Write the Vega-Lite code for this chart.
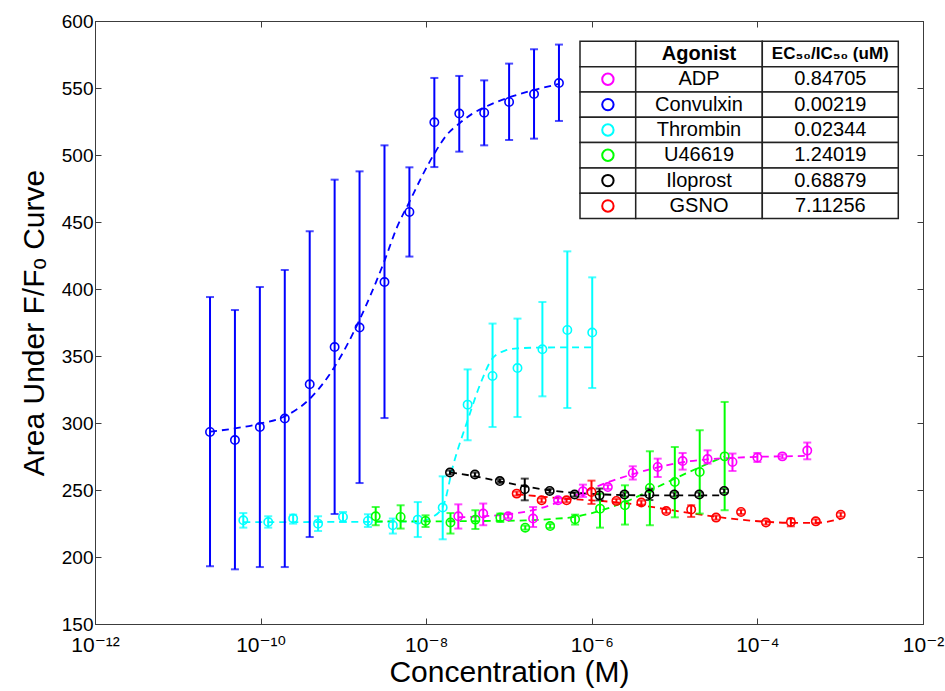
{
  "$schema": "https://vega.github.io/schema/vega-lite/v6.json",
  "width": 828,
  "height": 603,
  "autosize": "none",
  "padding": {"left": 95, "top": 21, "right": 22, "bottom": 67},
  "background": "white",
  "config": {
    "view": {"stroke": "#3c3c3c", "strokeWidth": 1},
    "font": "Liberation Sans, Arial, DejaVu Sans, sans-serif",
    "axis": {
      "grid": false,
      "domainColor": "#3c3c3c",
      "tickColor": "#3c3c3c",
      "labelColor": "#000000",
      "titleColor": "#000000",
      "labelFont": "Liberation Sans, Arial, DejaVu Sans, sans-serif",
      "titleFont": "Liberation Sans, Arial, DejaVu Sans, sans-serif",
      "titleFontWeight": "normal"
    }
  },
  "datasets": {
    "points": [
      {"s": "Convulxin", "x": 2.449e-11, "y": 293.3, "lo": 193.1, "hi": 394.0},
      {"s": "Convulxin", "x": 4.898e-11, "y": 287.3, "lo": 190.8, "hi": 384.3},
      {"s": "Convulxin", "x": 9.796e-11, "y": 297.0, "lo": 192.5, "hi": 401.5},
      {"s": "Convulxin", "x": 1.959e-10, "y": 303.3, "lo": 192.5, "hi": 414.2},
      {"s": "Convulxin", "x": 3.918e-10, "y": 328.9, "lo": 214.9, "hi": 443.1},
      {"s": "Convulxin", "x": 7.837e-10, "y": 356.7, "lo": 232.1, "hi": 481.6},
      {"s": "Convulxin", "x": 1.567e-9, "y": 371.2, "lo": 255.2, "hi": 487.8},
      {"s": "Convulxin", "x": 3.135e-9, "y": 405.2, "lo": 303.7, "hi": 507.2},
      {"s": "Convulxin", "x": 6.269e-9, "y": 457.5, "lo": 424.2, "hi": 490.8},
      {"s": "Convulxin", "x": 1.254e-8, "y": 524.4, "lo": 491.0, "hi": 557.5},
      {"s": "Convulxin", "x": 2.508e-8, "y": 530.9, "lo": 502.5, "hi": 559.0},
      {"s": "Convulxin", "x": 5.015e-8, "y": 531.6, "lo": 507.2, "hi": 555.7},
      {"s": "Convulxin", "x": 1.003e-7, "y": 539.6, "lo": 511.2, "hi": 568.2},
      {"s": "Convulxin", "x": 2.006e-7, "y": 545.5, "lo": 512.2, "hi": 578.9},
      {"s": "Convulxin", "x": 4.012e-7, "y": 553.7, "lo": 525.4, "hi": 582.4},
      {"s": "Thrombin", "x": 6.18e-11, "y": 227.4, "lo": 221.9, "hi": 232.8},
      {"s": "Thrombin", "x": 1.236e-10, "y": 226.1, "lo": 221.9, "hi": 230.4},
      {"s": "Thrombin", "x": 2.472e-10, "y": 228.7, "lo": 224.9, "hi": 231.6},
      {"s": "Thrombin", "x": 4.944e-10, "y": 224.9, "lo": 219.4, "hi": 230.4},
      {"s": "Thrombin", "x": 9.888e-10, "y": 229.9, "lo": 226.1, "hi": 233.6},
      {"s": "Thrombin", "x": 1.978e-9, "y": 226.9, "lo": 222.4, "hi": 231.9},
      {"s": "Thrombin", "x": 3.955e-9, "y": 223.7, "lo": 217.5, "hi": 228.7},
      {"s": "Thrombin", "x": 7.910e-9, "y": 227.9, "lo": 214.9, "hi": 241.0},
      {"s": "Thrombin", "x": 1.582e-8, "y": 236.9, "lo": 213.2, "hi": 260.2},
      {"s": "Thrombin", "x": 3.164e-8, "y": 313.7, "lo": 287.1, "hi": 340.0},
      {"s": "Thrombin", "x": 6.328e-8, "y": 335.1, "lo": 297.0, "hi": 374.2},
      {"s": "Thrombin", "x": 1.266e-7, "y": 341.0, "lo": 304.5, "hi": 377.9},
      {"s": "Thrombin", "x": 2.531e-7, "y": 355.0, "lo": 319.9, "hi": 390.3},
      {"s": "Thrombin", "x": 5.062e-7, "y": 369.4, "lo": 311.2, "hi": 428.1},
      {"s": "Thrombin", "x": 1.012e-6, "y": 367.5, "lo": 326.1, "hi": 408.7},
      {"s": "U46619", "x": 2.455e-9, "y": 230.4, "lo": 223.7, "hi": 237.3},
      {"s": "U46619", "x": 4.91e-9, "y": 229.9, "lo": 221.2, "hi": 238.6},
      {"s": "U46619", "x": 9.82e-9, "y": 226.9, "lo": 222.4, "hi": 231.1},
      {"s": "U46619", "x": 1.964e-8, "y": 225.7, "lo": 217.5, "hi": 232.8},
      {"s": "U46619", "x": 3.928e-8, "y": 227.9, "lo": 220.9, "hi": 234.9},
      {"s": "U46619", "x": 7.856e-8, "y": 229.4, "lo": 226.1, "hi": 232.4},
      {"s": "U46619", "x": 1.571e-7, "y": 221.9, "lo": 220.4, "hi": 223.4},
      {"s": "U46619", "x": 3.142e-7, "y": 223.1, "lo": 221.6, "hi": 224.6},
      {"s": "U46619", "x": 6.285e-7, "y": 228.1, "lo": 224.2, "hi": 231.6},
      {"s": "U46619", "x": 1.257e-6, "y": 236.1, "lo": 221.9, "hi": 247.3},
      {"s": "U46619", "x": 2.514e-6, "y": 238.6, "lo": 224.2, "hi": 253.5},
      {"s": "U46619", "x": 5.028e-6, "y": 251.5, "lo": 223.7, "hi": 278.9},
      {"s": "U46619", "x": 1.006e-5, "y": 256.0, "lo": 229.6, "hi": 282.1},
      {"s": "U46619", "x": 2.011e-5, "y": 263.4, "lo": 232.4, "hi": 294.6},
      {"s": "U46619", "x": 4.022e-5, "y": 275.1, "lo": 234.9, "hi": 315.7},
      {"s": "ADP", "x": 2.442e-8, "y": 230.4, "lo": 221.2, "hi": 239.3},
      {"s": "ADP", "x": 4.884e-8, "y": 232.4, "lo": 223.7, "hi": 239.9},
      {"s": "ADP", "x": 9.768e-8, "y": 230.4, "lo": 228.9, "hi": 231.9},
      {"s": "ADP", "x": 1.954e-7, "y": 228.7, "lo": 222.4, "hi": 237.3},
      {"s": "ADP", "x": 3.907e-7, "y": 242.3, "lo": 240.8, "hi": 243.8},
      {"s": "ADP", "x": 7.814e-7, "y": 249.0, "lo": 244.8, "hi": 254.0},
      {"s": "ADP", "x": 1.563e-6, "y": 252.2, "lo": 250.7, "hi": 253.7},
      {"s": "ADP", "x": 3.126e-6, "y": 262.7, "lo": 257.8, "hi": 267.7},
      {"s": "ADP", "x": 6.251e-6, "y": 267.2, "lo": 259.7, "hi": 273.4},
      {"s": "ADP", "x": 1.250e-5, "y": 271.6, "lo": 265.2, "hi": 277.6},
      {"s": "ADP", "x": 2.501e-5, "y": 273.1, "lo": 269.7, "hi": 279.6},
      {"s": "ADP", "x": 5.001e-5, "y": 270.9, "lo": 264.2, "hi": 277.2},
      {"s": "ADP", "x": 1.000e-4, "y": 274.2, "lo": 270.9, "hi": 277.6},
      {"s": "ADP", "x": 2.001e-4, "y": 275.1, "lo": 273.6, "hi": 276.6},
      {"s": "ADP", "x": 4.001e-4, "y": 279.4, "lo": 272.9, "hi": 285.4},
      {"s": "Iloprost", "x": 1.938e-8, "y": 263.0, "lo": 261.5, "hi": 264.5},
      {"s": "Iloprost", "x": 3.876e-8, "y": 261.5, "lo": 260.0, "hi": 263.0},
      {"s": "Iloprost", "x": 7.752e-8, "y": 256.7, "lo": 255.2, "hi": 258.2},
      {"s": "Iloprost", "x": 1.550e-7, "y": 250.5, "lo": 242.3, "hi": 258.5},
      {"s": "Iloprost", "x": 3.101e-7, "y": 249.3, "lo": 247.8, "hi": 250.8},
      {"s": "Iloprost", "x": 6.202e-7, "y": 246.6, "lo": 245.1, "hi": 248.1},
      {"s": "Iloprost", "x": 1.240e-6, "y": 246.0, "lo": 242.3, "hi": 251.1},
      {"s": "Iloprost", "x": 2.481e-6, "y": 246.6, "lo": 245.1, "hi": 248.1},
      {"s": "Iloprost", "x": 4.962e-6, "y": 246.8, "lo": 242.5, "hi": 251.0},
      {"s": "Iloprost", "x": 9.923e-6, "y": 246.6, "lo": 245.1, "hi": 248.1},
      {"s": "Iloprost", "x": 1.985e-5, "y": 246.6, "lo": 245.1, "hi": 248.1},
      {"s": "Iloprost", "x": 3.969e-5, "y": 249.3, "lo": 247.8, "hi": 250.8},
      {"s": "GSNO", "x": 1.239e-7, "y": 247.3, "lo": 245.8, "hi": 248.8},
      {"s": "GSNO", "x": 2.478e-7, "y": 242.3, "lo": 240.8, "hi": 243.8},
      {"s": "GSNO", "x": 4.956e-7, "y": 242.3, "lo": 240.8, "hi": 243.8},
      {"s": "GSNO", "x": 9.912e-7, "y": 248.5, "lo": 239.6, "hi": 257.0},
      {"s": "GSNO", "x": 1.982e-6, "y": 241.8, "lo": 240.3, "hi": 243.3},
      {"s": "GSNO", "x": 3.965e-6, "y": 240.6, "lo": 239.1, "hi": 242.1},
      {"s": "GSNO", "x": 7.930e-6, "y": 234.3, "lo": 232.8, "hi": 235.8},
      {"s": "GSNO", "x": 1.586e-5, "y": 235.4, "lo": 229.9, "hi": 238.6},
      {"s": "GSNO", "x": 3.172e-5, "y": 229.4, "lo": 227.9, "hi": 230.9},
      {"s": "GSNO", "x": 6.344e-5, "y": 233.6, "lo": 232.1, "hi": 235.1},
      {"s": "GSNO", "x": 1.269e-4, "y": 225.7, "lo": 224.2, "hi": 227.2},
      {"s": "GSNO", "x": 2.537e-4, "y": 226.1, "lo": 222.9, "hi": 228.7},
      {"s": "GSNO", "x": 5.075e-4, "y": 226.6, "lo": 225.1, "hi": 228.1},
      {"s": "GSNO", "x": 1.015e-3, "y": 231.6, "lo": 230.1, "hi": 233.1}
    ],
    "fits": [
      {"s": "Convulxin", "x": 2.449e-11, "y": 293.5},
      {"s": "Convulxin", "x": 4.898e-11, "y": 296.0},
      {"s": "Convulxin", "x": 9.796e-11, "y": 299.5},
      {"s": "Convulxin", "x": 1.959e-10, "y": 305.0},
      {"s": "Convulxin", "x": 3.918e-10, "y": 318.0},
      {"s": "Convulxin", "x": 7.837e-10, "y": 342.0},
      {"s": "Convulxin", "x": 1.567e-9, "y": 377.0},
      {"s": "Convulxin", "x": 2.216e-9, "y": 398.0},
      {"s": "Convulxin", "x": 3.135e-9, "y": 421.0},
      {"s": "Convulxin", "x": 4.433e-9, "y": 446.0},
      {"s": "Convulxin", "x": 6.269e-9, "y": 465.0},
      {"s": "Convulxin", "x": 8.866e-9, "y": 484.0},
      {"s": "Convulxin", "x": 1.254e-8, "y": 501.0},
      {"s": "Convulxin", "x": 1.773e-8, "y": 515.0},
      {"s": "Convulxin", "x": 2.508e-8, "y": 523.5},
      {"s": "Convulxin", "x": 3.547e-8, "y": 530.5},
      {"s": "Convulxin", "x": 5.015e-8, "y": 535.5},
      {"s": "Convulxin", "x": 1.003e-7, "y": 543.0},
      {"s": "Convulxin", "x": 2.006e-7, "y": 548.5},
      {"s": "Convulxin", "x": 4.012e-7, "y": 553.0},
      {"s": "Thrombin", "x": 6.18e-11, "y": 226.0},
      {"s": "Thrombin", "x": 7.910e-9, "y": 226.5},
      {"s": "Thrombin", "x": 1.119e-8, "y": 229.0},
      {"s": "Thrombin", "x": 1.582e-8, "y": 237.3},
      {"s": "Thrombin", "x": 2.149e-8, "y": 270.0},
      {"s": "Thrombin", "x": 3.164e-8, "y": 302.0},
      {"s": "Thrombin", "x": 4.543e-8, "y": 329.7},
      {"s": "Thrombin", "x": 6.328e-8, "y": 348.3},
      {"s": "Thrombin", "x": 8.95e-8, "y": 354.0},
      {"s": "Thrombin", "x": 1.266e-7, "y": 355.7},
      {"s": "Thrombin", "x": 2.531e-7, "y": 356.3},
      {"s": "Thrombin", "x": 1.012e-6, "y": 356.5},
      {"s": "U46619", "x": 2.455e-9, "y": 226.5},
      {"s": "U46619", "x": 9.82e-9, "y": 226.6},
      {"s": "U46619", "x": 3.928e-8, "y": 226.8},
      {"s": "U46619", "x": 1.571e-7, "y": 227.3},
      {"s": "U46619", "x": 3.142e-7, "y": 228.3},
      {"s": "U46619", "x": 6.285e-7, "y": 230.0},
      {"s": "U46619", "x": 1.257e-6, "y": 234.5},
      {"s": "U46619", "x": 2.514e-6, "y": 241.0},
      {"s": "U46619", "x": 5.028e-6, "y": 249.5},
      {"s": "U46619", "x": 1.006e-5, "y": 258.5},
      {"s": "U46619", "x": 2.011e-5, "y": 267.0},
      {"s": "U46619", "x": 4.022e-5, "y": 275.0},
      {"s": "ADP", "x": 2.442e-8, "y": 229.6},
      {"s": "ADP", "x": 4.884e-8, "y": 230.4},
      {"s": "ADP", "x": 9.768e-8, "y": 231.9},
      {"s": "ADP", "x": 1.954e-7, "y": 234.9},
      {"s": "ADP", "x": 3.907e-7, "y": 240.8},
      {"s": "ADP", "x": 7.814e-7, "y": 248.3},
      {"s": "ADP", "x": 1.563e-6, "y": 255.8},
      {"s": "ADP", "x": 3.126e-6, "y": 261.8},
      {"s": "ADP", "x": 6.251e-6, "y": 266.9},
      {"s": "ADP", "x": 1.250e-5, "y": 270.7},
      {"s": "ADP", "x": 2.501e-5, "y": 272.9},
      {"s": "ADP", "x": 5.001e-5, "y": 274.0},
      {"s": "ADP", "x": 1.000e-4, "y": 274.8},
      {"s": "ADP", "x": 2.001e-4, "y": 275.1},
      {"s": "ADP", "x": 4.001e-4, "y": 275.5},
      {"s": "Iloprost", "x": 1.938e-8, "y": 263.2},
      {"s": "Iloprost", "x": 3.876e-8, "y": 260.2},
      {"s": "Iloprost", "x": 7.752e-8, "y": 256.5},
      {"s": "Iloprost", "x": 1.550e-7, "y": 252.8},
      {"s": "Iloprost", "x": 3.101e-7, "y": 249.8},
      {"s": "Iloprost", "x": 6.202e-7, "y": 247.9},
      {"s": "Iloprost", "x": 1.240e-6, "y": 246.8},
      {"s": "Iloprost", "x": 4.962e-6, "y": 246.0},
      {"s": "Iloprost", "x": 3.969e-5, "y": 246.0},
      {"s": "GSNO", "x": 1.239e-7, "y": 246.8},
      {"s": "GSNO", "x": 2.478e-7, "y": 245.1},
      {"s": "GSNO", "x": 4.956e-7, "y": 243.4},
      {"s": "GSNO", "x": 9.912e-7, "y": 242.3},
      {"s": "GSNO", "x": 1.982e-6, "y": 240.8},
      {"s": "GSNO", "x": 3.965e-6, "y": 238.6},
      {"s": "GSNO", "x": 7.930e-6, "y": 235.6},
      {"s": "GSNO", "x": 1.586e-5, "y": 232.6},
      {"s": "GSNO", "x": 3.172e-5, "y": 230.0},
      {"s": "GSNO", "x": 6.344e-5, "y": 227.8},
      {"s": "GSNO", "x": 1.269e-4, "y": 226.3},
      {"s": "GSNO", "x": 2.537e-4, "y": 225.5},
      {"s": "GSNO", "x": 5.075e-4, "y": 225.5},
      {"s": "GSNO", "x": 1.015e-3, "y": 228.5}
    ],
    "table": [
      {"row": "h", "name": "Agonist", "ec": "EC₅₀/IC₅₀ (uM)"},
      {"row": "ADP", "name": "ADP", "ec": "0.84705"},
      {"row": "Convulxin", "name": "Convulxin", "ec": "0.00219"},
      {"row": "Thrombin", "name": "Thrombin", "ec": "0.02344"},
      {"row": "U46619", "name": "U46619", "ec": "1.24019"},
      {"row": "Iloprost", "name": "Iloprost", "ec": "0.68879"},
      {"row": "GSNO", "name": "GSNO", "ec": "7.11256"}
    ]
  },
  "layer": [
    {
      "data": {"name": "fits"},
      "mark": {"type": "line", "strokeDash": [7, 5], "strokeWidth": 1.8, "interpolate": "monotone"},
      "encoding": {
        "x": {"field": "x", "type": "quantitative",
          "scale": {"type": "log", "domain": [1e-12, 1e-2]},
          "axis": {"orient": "bottom", "title": "Concentration (M)", "values": [1e-12, 1e-10, 1e-8, 1e-6, 1e-4, 1e-2],
            "labelExpr": "datum.value < 1e-11 ? '10⁻¹²' : datum.value < 1e-9 ? '10⁻¹⁰' : datum.value < 1e-7 ? '10⁻⁸' : datum.value < 1e-5 ? '10⁻⁶' : datum.value < 1e-3 ? '10⁻⁴' : '10⁻²'",
            "tickSize": -6, "labelPadding": 16, "labelFontSize": 21, "labelFlush": false, "labelOverlap": false,
            "titleFontSize": 30, "titlePadding": 2}},
        "y": {"field": "y", "type": "quantitative",
          "scale": {"domain": [150, 600], "nice": false, "zero": false},
          "axis": {"orient": "left", "title": "Area Under F/Fₒ Curve", "values": [150, 200, 250, 300, 350, 400, 450, 500, 550, 600],
            "tickSize": -6, "labelPadding": 8, "labelFontSize": 19, "labelFlush": false, "labelOverlap": false,
            "titleFontSize": 30, "titlePadding": 12}},
        "color": {"field": "s", "type": "nominal", "legend": null,
          "scale": {"domain": ["ADP", "Convulxin", "Thrombin", "U46619", "Iloprost", "GSNO"],
            "range": ["#ff00ff", "#0000ff", "#00ffff", "#00ff00", "#000000", "#ff0000"]}}
      }
    },
    {
      "data": {"name": "points"},
      "mark": {"type": "errorbar", "ticks": true, "size": 8, "thickness": 2},
      "encoding": {
        "x": {"field": "x", "type": "quantitative",
          "scale": {"type": "log", "domain": [1e-12, 1e-2]},
          "axis": {"orient": "top", "title": null, "labels": false, "values": [1e-12, 1e-10, 1e-8, 1e-6, 1e-4, 1e-2], "tickSize": -6}},
        "y": {"field": "lo", "type": "quantitative",
          "scale": {"domain": [150, 600], "nice": false, "zero": false},
          "axis": {"orient": "right", "title": null, "labels": false, "values": [150, 200, 250, 300, 350, 400, 450, 500, 550, 600], "tickSize": -6}},
        "y2": {"field": "hi"},
        "color": {"field": "s", "type": "nominal", "legend": null}
      }
    },
    {
      "data": {"name": "points"},
      "mark": {"type": "point", "shape": "circle", "filled": false, "size": 70, "strokeWidth": 1.6, "opacity": 1},
      "encoding": {
        "x": {"field": "x", "type": "quantitative", "scale": {"type": "log", "domain": [1e-12, 1e-2]}, "axis": null},
        "y": {"field": "y", "type": "quantitative", "scale": {"domain": [150, 600], "nice": false, "zero": false}, "axis": null},
        "color": {"field": "s", "type": "nominal", "legend": null}
      }
    },
    {
      "data": {"name": "table"},
      "mark": {"type": "rect", "fill": "white", "stroke": "#222222", "strokeWidth": 1.5},
      "encoding": {
        "x": {"datum": 7.203e-7, "type": "quantitative", "scale": {"type": "log", "domain": [1e-12, 1e-2]}, "axis": null},
        "x2": {"datum": 3.391e-6},
        "y": {"field": "row", "type": "nominal", "axis": null,
          "scale": {"domain": ["h", "ADP", "Convulxin", "Thrombin", "U46619", "Iloprost", "GSNO"], "range": [20.3, 197.6], "paddingInner": 0, "paddingOuter": 0}}
      }
    },
    {
      "data": {"name": "table"},
      "mark": {"type": "rect", "fill": "white", "stroke": "#222222", "strokeWidth": 1.5},
      "encoding": {
        "x": {"datum": 3.391e-6, "type": "quantitative", "scale": {"type": "log", "domain": [1e-12, 1e-2]}, "axis": null},
        "x2": {"datum": 1.146e-4},
        "y": {"field": "row", "type": "nominal", "axis": null,
          "scale": {"domain": ["h", "ADP", "Convulxin", "Thrombin", "U46619", "Iloprost", "GSNO"], "range": [20.3, 197.6], "paddingInner": 0, "paddingOuter": 0}}
      }
    },
    {
      "data": {"name": "table"},
      "mark": {"type": "rect", "fill": "white", "stroke": "#222222", "strokeWidth": 1.5},
      "encoding": {
        "x": {"datum": 1.146e-4, "type": "quantitative", "scale": {"type": "log", "domain": [1e-12, 1e-2]}, "axis": null},
        "x2": {"datum": 5.03e-3},
        "y": {"field": "row", "type": "nominal", "axis": null,
          "scale": {"domain": ["h", "ADP", "Convulxin", "Thrombin", "U46619", "Iloprost", "GSNO"], "range": [20.3, 197.6], "paddingInner": 0, "paddingOuter": 0}}
      }
    },
    {
      "data": {"name": "table"},
      "transform": [{"filter": "datum.row != 'h'"}],
      "mark": {"type": "point", "shape": "circle", "filled": false, "size": 130, "strokeWidth": 2, "opacity": 1},
      "encoding": {
        "x": {"datum": 1.565e-6, "type": "quantitative", "scale": {"type": "log", "domain": [1e-12, 1e-2]}, "axis": null},
        "y": {"field": "row", "type": "nominal", "axis": null,
          "scale": {"domain": ["h", "ADP", "Convulxin", "Thrombin", "U46619", "Iloprost", "GSNO"], "range": [20.3, 197.6], "paddingInner": 0, "paddingOuter": 0}},
        "color": {"field": "name", "type": "nominal", "legend": null}
      }
    },
    {
      "data": {"name": "table"},
      "transform": [{"filter": "datum.row != 'h'"}],
      "mark": {"type": "text", "fontSize": 20, "color": "#000000", "align": "center", "baseline": "middle"},
      "encoding": {
        "x": {"datum": 1.971e-5, "type": "quantitative", "scale": {"type": "log", "domain": [1e-12, 1e-2]}, "axis": null},
        "y": {"field": "row", "type": "nominal", "axis": null,
          "scale": {"domain": ["h", "ADP", "Convulxin", "Thrombin", "U46619", "Iloprost", "GSNO"], "range": [20.3, 197.6], "paddingInner": 0, "paddingOuter": 0}},
        "text": {"field": "name"}
      }
    },
    {
      "data": {"name": "table"},
      "transform": [{"filter": "datum.row != 'h'"}],
      "mark": {"type": "text", "fontSize": 20, "color": "#000000", "align": "center", "baseline": "middle"},
      "encoding": {
        "x": {"datum": 7.59e-4, "type": "quantitative", "scale": {"type": "log", "domain": [1e-12, 1e-2]}, "axis": null},
        "y": {"field": "row", "type": "nominal", "axis": null,
          "scale": {"domain": ["h", "ADP", "Convulxin", "Thrombin", "U46619", "Iloprost", "GSNO"], "range": [20.3, 197.6], "paddingInner": 0, "paddingOuter": 0}},
        "text": {"field": "ec"}
      }
    },
    {
      "data": {"name": "table"},
      "transform": [{"filter": "datum.row == 'h'"}],
      "mark": {"type": "text", "fontSize": 20, "fontWeight": "bold", "color": "#000000", "align": "center", "baseline": "middle"},
      "encoding": {
        "x": {"datum": 1.971e-5, "type": "quantitative", "scale": {"type": "log", "domain": [1e-12, 1e-2]}, "axis": null},
        "y": {"field": "row", "type": "nominal", "axis": null,
          "scale": {"domain": ["h", "ADP", "Convulxin", "Thrombin", "U46619", "Iloprost", "GSNO"], "range": [20.3, 197.6], "paddingInner": 0, "paddingOuter": 0}},
        "text": {"field": "name"}
      }
    },
    {
      "data": {"name": "table"},
      "transform": [{"filter": "datum.row == 'h'"}],
      "mark": {"type": "text", "fontSize": 17, "fontWeight": "bold", "color": "#000000", "align": "center", "baseline": "middle"},
      "encoding": {
        "x": {"datum": 7.59e-4, "type": "quantitative", "scale": {"type": "log", "domain": [1e-12, 1e-2]}, "axis": null},
        "y": {"field": "row", "type": "nominal", "axis": null,
          "scale": {"domain": ["h", "ADP", "Convulxin", "Thrombin", "U46619", "Iloprost", "GSNO"], "range": [20.3, 197.6], "paddingInner": 0, "paddingOuter": 0}},
        "text": {"field": "ec"}
      }
    }
  ],
  "resolve": {"scale": {"y": "independent"}, "axis": {"x": "independent", "y": "independent"}}
}
